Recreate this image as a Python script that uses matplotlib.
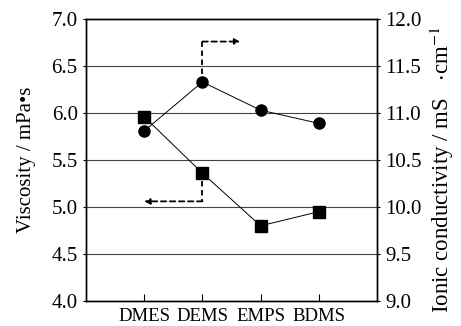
import numpy as np
import matplotlib.pyplot as plt

plt.rcParams['font.family'] = ['Liberation Serif', 'DejaVu Serif']
plt.rcParams['mathtext.fontset'] = 'stix'

# data
solvents = ['DMES', 'DEMS', 'EMPS', 'BDMS']
viscosity = [5.96, 5.36, 4.80, 4.95]          # mPa s, left axis
conductivity = [10.81, 11.33, 11.03, 10.89]   # mS/cm, right axis

x = np.arange(1, len(solvents) + 1)

fig = plt.figure(figsize=(4.61, 3.26), dpi=100)
ax = fig.add_axes([0.1866, 0.0767, 0.6312, 0.865])
ax2 = ax.twinx()

# horizontal grid
for yv in [4.5, 5.0, 5.5, 6.0, 6.5]:
    ax.axhline(yv, color='#444444', lw=0.8, zorder=0)

ax.plot(x, viscosity, color='black', lw=0.7, marker='s', ms=8.5, zorder=3)
ax2.plot(x, conductivity, color='black', lw=0.7, marker='o', ms=8, zorder=3)

ax.set_xlim(0, 5)
ax.set_ylim(4.0, 7.0)
ax2.set_ylim(9.0, 12.0)

ax.set_xticks(x)
ax.set_xticklabels(solvents, fontsize=13.5)
ax.set_yticks(np.arange(4.0, 7.01, 0.5))
ax.set_yticklabels([f'{v:.1f}' for v in np.arange(4.0, 7.01, 0.5)], fontsize=15)
ax2.set_yticks(np.arange(9.0, 12.01, 0.5))
ax2.set_yticklabels([f'{v:.1f}' for v in np.arange(9.0, 12.01, 0.5)], fontsize=15)

ax.tick_params(axis='x', direction='in', length=5, width=0.8, pad=5)
ax.tick_params(axis='y', direction='out', length=2, width=0.8, pad=4)
ax2.tick_params(axis='y', direction='out', length=2, width=0.8, pad=4)

ax.set_ylabel('Viscosity / mPa\u2022s', fontsize=15, labelpad=11)
ax2.set_ylabel(r'Ionic conductivity / mS   $\cdot$cm$^{-1}$', fontsize=16.5)
ax2.yaxis.set_label_coords(1.175, 0.465)

for a in (ax, ax2):
    for s in a.spines.values():
        s.set_linewidth(1.0)

# dashed arrows pointing to the axis for each series
ax.plot([2, 2], [viscosity[1] - 0.08, 5.06], color='black', lw=1.3, ls=(0, (3, 2)))
ax.annotate('', xy=(1.0, 5.06), xytext=(2, 5.06),
            arrowprops=dict(arrowstyle='-|>', color='black', lw=1.3, ls=(0, (3, 2)),
                            mutation_scale=8, shrinkA=0, shrinkB=0))
ax2.plot([2, 2], [conductivity[1] + 0.08, 11.76], color='black', lw=1.3, ls=(0, (3, 2)))
ax2.annotate('', xy=(2.65, 11.76), xytext=(2, 11.76),
             arrowprops=dict(arrowstyle='-|>', color='black', lw=1.3, ls=(0, (3, 2)),
                             mutation_scale=8, shrinkA=0, shrinkB=0))

fig.savefig('out.png', dpi=100)
